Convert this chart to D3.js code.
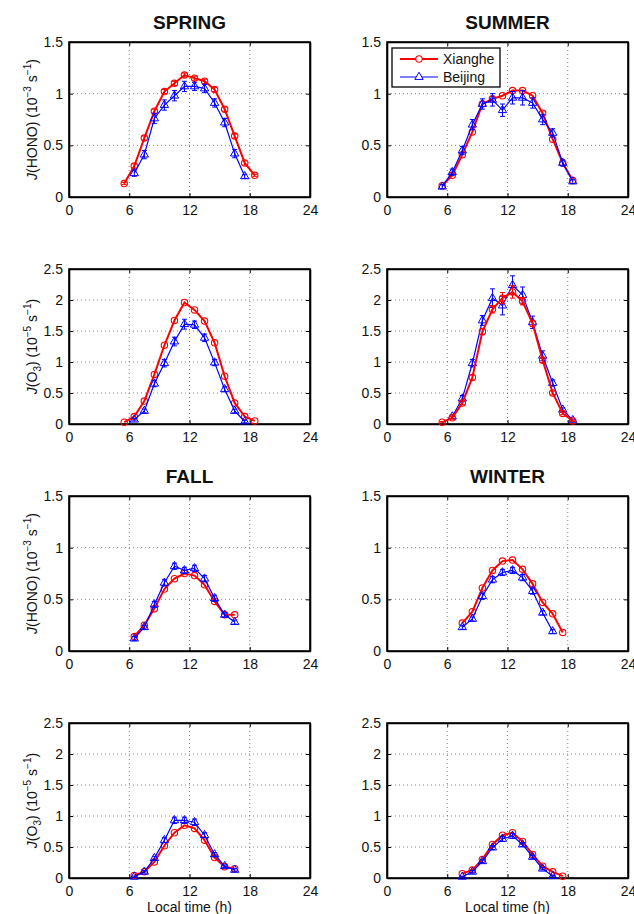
<!DOCTYPE html>
<html>
<head>
<meta charset="utf-8">
<script src="https://cdn.jsdelivr.net/npm/d3@7"></script>
<style>
  body { margin: 0; background: #fff; }
  svg text { font-family: "Liberation Sans", Arial, sans-serif; fill: #111; }
  .tick text { font-size: 14px; }
</style>
</head>
<body>
<div id="chart"></div>
<script>
// local hours of each series
var hoursSpringX = [5.5,6.5,7.5,8.5,9.5,10.5,11.5,12.5,13.5,14.5,15.5,16.5,17.5,18.5];
var hoursSpringB = [6.5,7.5,8.5,9.5,10.5,11.5,12.5,13.5,14.5,15.5,16.5,17.5];
var hoursSummerX = [5.5,6.5,7.5,8.5,9.5,10.5,11.5,12.5,13.5,14.5,15.5,16.5,17.5,18.5];
var hoursSummerO3B = [6.5,7.5,8.5,9.5,10.5,11.5,12.5,13.5,14.5,15.5,16.5,17.5,18.5];
var hoursFall = [6.5,7.5,8.5,9.5,10.5,11.5,12.5,13.5,14.5,15.5,16.5];
var hoursWinterX = [7.5,8.5,9.5,10.5,11.5,12.5,13.5,14.5,15.5,16.5,17.5];
var hoursWinterB = [7.5,8.5,9.5,10.5,11.5,12.5,13.5,14.5,15.5,16.5];

// J(HONO), 10^-3 s^-1
var springHonoX = [0.13,0.30,0.57,0.83,1.02,1.10,1.18,1.15,1.12,1.04,0.85,0.59,0.33,0.21];
var springHonoB = [0.23,0.41,0.76,0.89,0.98,1.07,1.07,1.05,0.91,0.72,0.42,0.20];
var summerHonoX = [0.11,0.21,0.41,0.63,0.90,0.95,0.98,1.03,1.03,0.98,0.81,0.56,0.33,0.16];
var summerHonoB = [0.10,0.24,0.45,0.70,0.90,0.94,0.84,0.96,0.96,0.91,0.75,0.62,0.33,0.15];
var fallHonoX = [0.14,0.25,0.41,0.60,0.70,0.75,0.73,0.64,0.48,0.35,0.35];
var fallHonoB = [0.12,0.23,0.45,0.66,0.82,0.78,0.80,0.70,0.51,0.35,0.28];
var winterHonoX = [0.27,0.38,0.61,0.78,0.87,0.88,0.79,0.65,0.47,0.36,0.18];
var winterHonoB = [0.23,0.31,0.53,0.69,0.76,0.78,0.71,0.58,0.37,0.19];

// J(O3), 10^-5 s^-1
var springO3X = [0.03,0.12,0.37,0.80,1.27,1.67,1.96,1.84,1.66,1.31,0.77,0.34,0.12,0.05];
var springO3B = [0.07,0.21,0.65,0.98,1.33,1.61,1.60,1.39,0.99,0.56,0.21,0.04];
var summerO3X = [0.03,0.10,0.34,0.75,1.49,1.85,2.03,2.13,1.98,1.62,1.03,0.50,0.17,0.05];
var summerO3B = [0.12,0.41,0.98,1.67,2.03,1.91,2.24,2.08,1.64,1.10,0.66,0.23,0.06];
var fallO3X = [0.04,0.10,0.26,0.52,0.73,0.85,0.80,0.61,0.33,0.18,0.15];
var fallO3B = [0.02,0.10,0.32,0.61,0.93,0.93,0.90,0.69,0.38,0.19,0.13];
var winterO3X = [0.07,0.13,0.30,0.54,0.69,0.73,0.59,0.38,0.19,0.10,0.03];
var winterO3B = [0.02,0.10,0.27,0.49,0.63,0.68,0.54,0.34,0.15,0.03];

// error bars (half width)
var springHonoXErr = [0.01,0.02,0.02,0.02,0.02,0.02,0.02,0.02,0.02,0.02,0.02,0.02,0.02,0.01];
var springHonoBErr = [0.03,0.04,0.05,0.05,0.05,0.05,0.04,0.04,0.04,0.04,0.04,0.02];
var summerHonoBErr = [0.02,0.03,0.04,0.05,0.05,0.06,0.06,0.06,0.07,0.05,0.05,0.04,0.03,0.02];
var fallHonoBErr = [0.02,0.02,0.03,0.03,0.03,0.03,0.03,0.03,0.03,0.02,0.02];
var winterHonoBErr = [0.02,0.02,0.03,0.03,0.03,0.03,0.03,0.03,0.02,0.02];
var springO3BErr = [0.02,0.03,0.05,0.06,0.07,0.08,0.06,0.06,0.05,0.04,0.03,0.02];
var summerO3XErr = [0.01,0.02,0.03,0.04,0.05,0.06,0.09,0.10,0.06,0.05,0.04,0.03,0.02,0.01];
var summerO3BErr = [0.03,0.05,0.06,0.08,0.15,0.15,0.15,0.13,0.10,0.08,0.05,0.03,0.02];
var fallO3BErr = [0.01,0.02,0.03,0.04,0.05,0.05,0.05,0.04,0.03,0.02,0.02];
var winterO3BErr = [0.01,0.02,0.03,0.03,0.04,0.04,0.03,0.03,0.02,0.01];

var xTicks = [0,6,12,18,24];
var honoTicks = [0,0.5,1,1.5];
var o3Ticks = [0,0.5,1,1.5,2,2.5];
var titles = ["SPRING","SUMMER","FALL","WINTER"];
var seriesNames = ["Xianghe","Beijing"];

var panels = [
  {row:0, col:0, title:titles[0], kind:"hono", x:[hoursSpringX, springHonoX, springHonoXErr], b:[hoursSpringB, springHonoB, springHonoBErr]},
  {row:0, col:1, title:titles[1], kind:"hono", x:[hoursSummerX, summerHonoX, null], b:[hoursSummerX, summerHonoB, summerHonoBErr], legend:true},
  {row:1, col:0, kind:"o3", x:[hoursSpringX, springO3X, null], b:[hoursSpringB, springO3B, springO3BErr]},
  {row:1, col:1, kind:"o3", x:[hoursSummerX, summerO3X, summerO3XErr], b:[hoursSummerO3B, summerO3B, summerO3BErr]},
  {row:2, col:0, title:titles[2], kind:"hono", x:[hoursFall, fallHonoX, null], b:[hoursFall, fallHonoB, fallHonoBErr]},
  {row:2, col:1, title:titles[3], kind:"hono", x:[hoursWinterX, winterHonoX, null], b:[hoursWinterB, winterHonoB, winterHonoBErr]},
  {row:3, col:0, kind:"o3", x:[hoursFall, fallO3X, null], b:[hoursFall, fallO3B, fallO3BErr], xlabel:true},
  {row:3, col:1, kind:"o3", x:[hoursWinterX, winterO3X, null], b:[hoursWinterB, winterO3B, winterO3BErr], xlabel:true}
];

var W = 634, H = 914;
var colX = [69, 387], rowY = [42, 269, 496, 723];
var pw = 241, ph = 155;
var red = "#ff0000", blue = "#0000ff";

var svg = d3.select("#chart").append("svg")
    .attr("width", W)
    .attr("height", H);

var triangle = d3.symbol().type(d3.symbolTriangle).size(30);

panels.forEach(function(p) {
    var x0 = colX[p.col], y0 = rowY[p.row];
    var ticks = p.kind == "hono" ? honoTicks : o3Ticks;
    var x = d3.scaleLinear().domain([0,24]).range([x0, x0 + pw]);
    var y = d3.scaleLinear().domain([0, ticks[ticks.length-1]]).range([y0 + ph, y0]);

    var g = svg.append("g");

    // grid
    g.selectAll(".vgrid").data(xTicks.slice(1, -1)).enter().append("line")
        .attr("x1", function(d) { return x(d); }).attr("x2", function(d) { return x(d); })
        .attr("y1", y0).attr("y2", y0 + ph)
        .attr("stroke", "#666").attr("stroke-width", 0.8).attr("stroke-dasharray", "1,3");
    g.selectAll(".hgrid").data(ticks.slice(1, -1)).enter().append("line")
        .attr("y1", function(d) { return y(d); }).attr("y2", function(d) { return y(d); })
        .attr("x1", x0).attr("x2", x0 + pw)
        .attr("stroke", "#666").attr("stroke-width", 0.8).attr("stroke-dasharray", "1,3");

    // axes
    g.append("g").attr("transform", "translate(0," + (y0 + ph) + ")")
        .call(d3.axisBottom(x).tickValues(xTicks).tickSizeInner(-4).tickSizeOuter(0).tickPadding(8));
    g.append("g").attr("transform", "translate(" + x0 + ",0)")
        .call(d3.axisLeft(y).tickValues(ticks).tickFormat(d3.format("")).tickSizeInner(-4).tickSizeOuter(0).tickPadding(6));
    g.append("g").attr("transform", "translate(0," + y0 + ")")
        .call(d3.axisTop(x).tickValues(xTicks).tickSizeInner(-4).tickSizeOuter(0).tickFormat(""));
    g.append("g").attr("transform", "translate(" + (x0 + pw) + ",0)")
        .call(d3.axisRight(y).tickValues(ticks).tickSizeInner(-4).tickSizeOuter(0).tickFormat(""));
    g.selectAll(".domain").attr("stroke", "#000").attr("stroke-width", 1.6);
    g.selectAll(".tick line").attr("stroke", "#000");

    g.append("rect")
        .attr("x", x0).attr("y", y0).attr("width", pw).attr("height", ph)
        .attr("fill", "none").attr("stroke", "#000").attr("stroke-width", 1.6);

    // series
    function drawSeries(s, color, lw, marker) {
        var pts = s[0].map(function(h, i) { return {h: h, v: s[1][i], e: s[2] ? s[2][i] : 0}; });
        var sg = g.append("g");
        sg.append("path").datum(pts)
            .attr("fill", "none").attr("stroke", color).attr("stroke-width", lw)
            .attr("d", d3.line().x(function(d) { return x(d.h); }).y(function(d) { return y(d.v); }));
        var eb = sg.selectAll(".err").data(pts.filter(function(d) { return d.e > 0; })).enter().append("g");
        eb.append("line")
            .attr("x1", function(d) { return x(d.h); }).attr("x2", function(d) { return x(d.h); })
            .attr("y1", function(d) { return y(d.v - d.e); }).attr("y2", function(d) { return y(d.v + d.e); })
            .attr("stroke", color).attr("stroke-width", 1);
        [-1, 1].forEach(function(sign) {
            eb.append("line")
                .attr("x1", function(d) { return x(d.h) - 2.5; }).attr("x2", function(d) { return x(d.h) + 2.5; })
                .attr("y1", function(d) { return y(d.v + sign * d.e); }).attr("y2", function(d) { return y(d.v + sign * d.e); })
                .attr("stroke", color).attr("stroke-width", 1);
        });
        if (marker == "circle") {
            sg.selectAll("circle").data(pts).enter().append("circle")
                .attr("cx", function(d) { return x(d.h); }).attr("cy", function(d) { return y(d.v); })
                .attr("r", 3.2).attr("fill", "none").attr("stroke", color).attr("stroke-width", 1.1);
        } else {
            sg.selectAll(".tri").data(pts).enter().append("path")
                .attr("transform", function(d) { return "translate(" + x(d.h) + "," + y(d.v) + ")"; })
                .attr("d", triangle).attr("fill", "none").attr("stroke", color).attr("stroke-width", 1);
        }
    }
    if (p.row == 1 && p.col == 1) {
        drawSeries(p.b, blue, 1.2, "tri");
        drawSeries(p.x, red, 2, "circle");
    } else {
        drawSeries(p.x, red, 2, "circle");
        drawSeries(p.b, blue, 1.2, "tri");
    }

    // title
    if (p.title) {
        g.append("text")
            .attr("x", x0 + pw / 2).attr("y", y0 - 13)
            .attr("text-anchor", "middle")
            .style("font-size", "19px").style("font-weight", "bold")
            .text(p.title);
    }

    // y label
    if (p.col == 0) {
        var yl = g.append("text")
            .attr("transform", "translate(37," + (y0 + ph / 2) + ") rotate(-90)")
            .attr("text-anchor", "middle")
            .style("font-size", "14px");
        yl.append("tspan").style("font-style", "italic").text("J");
        if (p.kind == "hono") {
            yl.append("tspan").text("(HONO) (10");
            yl.append("tspan").attr("dy", -6).style("font-size", "10px").text("\u22123");
            yl.append("tspan").attr("dy", 6).text(" s");
            yl.append("tspan").attr("dy", -6).style("font-size", "10px").text("\u22121");
            yl.append("tspan").attr("dy", 6).text(")");
        } else {
            yl.append("tspan").text("(O");
            yl.append("tspan").attr("dy", 4).style("font-size", "10px").text("3");
            yl.append("tspan").attr("dy", -4).text(") (10");
            yl.append("tspan").attr("dy", -6).style("font-size", "10px").text("\u22125");
            yl.append("tspan").attr("dy", 6).text(" s");
            yl.append("tspan").attr("dy", -6).style("font-size", "10px").text("\u22121");
            yl.append("tspan").attr("dy", 6).text(")");
        }
    }

    // x label
    if (p.xlabel) {
        g.append("text")
            .attr("x", x0 + pw / 2).attr("y", y0 + ph + 34)
            .attr("text-anchor", "middle")
            .style("font-size", "14px")
            .text("Local time (h)");
    }

    // legend
    if (p.legend) {
        var lg = g.append("g").attr("transform", "translate(" + (x0 + 5) + "," + (y0 + 6) + ")");
        lg.append("rect").attr("width", 108).attr("height", 39)
            .attr("fill", "#fff").attr("stroke", "#000").attr("stroke-width", 1.3);
        seriesNames.forEach(function(name, i) {
            var cy = 11 + i * 18;
            var c = i == 0 ? red : blue;
            lg.append("line").attr("x1", 8).attr("x2", 46).attr("y1", cy).attr("y2", cy)
                .attr("stroke", c).attr("stroke-width", i == 0 ? 2 : 1.2);
            if (i == 0) {
                lg.append("circle").attr("cx", 27).attr("cy", cy).attr("r", 3.2)
                    .attr("fill", "#fff").attr("stroke", c).attr("stroke-width", 1.1);
            } else {
                lg.append("path").attr("transform", "translate(27," + cy + ")")
                    .attr("d", triangle).attr("fill", "#fff").attr("stroke", c);
            }
            lg.append("text").attr("x", 51).attr("y", cy + 5)
                .style("font-size", "14px").text(name);
        });
    }
});
</script>
</body>
</html>
